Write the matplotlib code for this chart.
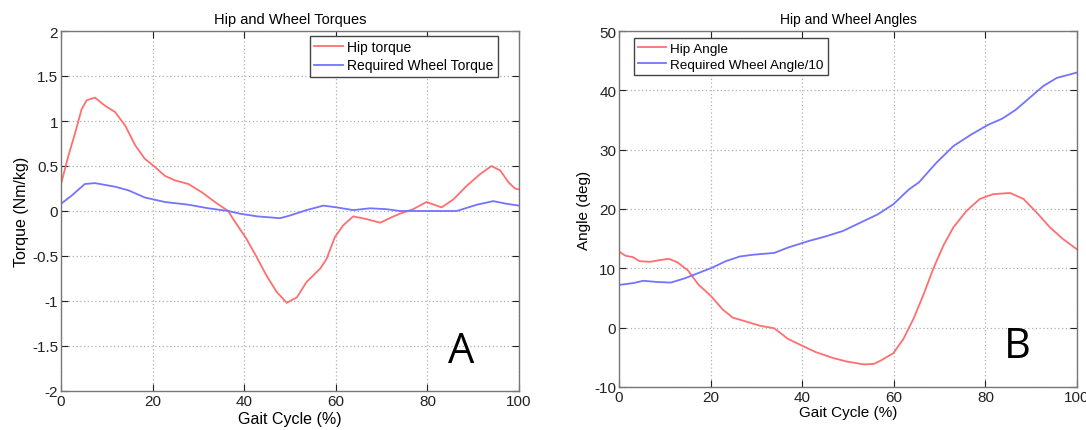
import matplotlib
matplotlib.use("Agg")
import matplotlib.pyplot as plt

plt.rcParams["font.family"] = ["Liberation Sans", "DejaVu Sans"]
plt.rcParams["axes.unicode_minus"] = False

RED = "#ff6f6f"
BLUE = "#7373ff"

# Panel A: torques (Nm/kg) vs gait cycle (%)
hip_torque_x = [0, 1.6, 3.1, 4.5, 5.6, 7.4, 9.6, 11.8, 14.0, 16.2, 18.3, 20.5, 22.7, 24.9,
                27.8, 30.7, 33.6, 36.5, 37.6, 40.5, 42.7, 44.9, 47.1, 49.3, 51.5, 53.6,
                56.6, 58.0, 59.8, 61.6, 63.8, 66.7, 69.7, 72.6, 74.0, 76.9, 79.8, 83.1,
                85.7, 88.6, 91.5, 94.0, 95.9, 97.7, 99.1, 100]
hip_torque_y = [0.30, 0.61, 0.87, 1.13, 1.23, 1.26, 1.17, 1.10, 0.95, 0.73, 0.58, 0.49,
                0.39, 0.34, 0.30, 0.21, 0.10, 0.0, -0.09, -0.31, -0.51, -0.72, -0.90,
                -1.02, -0.96, -0.79, -0.64, -0.53, -0.29, -0.16, -0.06, -0.09, -0.13,
                -0.06, -0.03, 0.02, 0.10, 0.04, 0.13, 0.28, 0.41, 0.50, 0.45, 0.32, 0.25,
                0.24]
wheel_torque_x = [0, 2.3, 5.2, 7.4, 11.8, 14.7, 18.3, 22.7, 27.8, 32.2, 36.5, 39.1, 42.9,
                  47.8, 50.0, 53.6, 57.3, 60.2, 63.8, 67.5, 71.1, 74.0, 76.2, 86.4, 90.8,
                  94.4, 97.3, 100]
wheel_torque_y = [0.08, 0.17, 0.30, 0.31, 0.27, 0.23, 0.15, 0.10, 0.07, 0.03, 0.0, -0.03,
                  -0.06, -0.08, -0.05, 0.01, 0.06, 0.04, 0.01, 0.03, 0.02, 0.0, 0.0, 0.0,
                  0.07, 0.11, 0.08, 0.06]

# Panel B: angles (deg) vs gait cycle (%)
hip_angle_x = [0, 1.5, 3.0, 4.5, 6.8, 9.0, 10.9, 12.8, 15.1, 17.3, 20.0, 22.6, 24.8, 27.9,
               30.9, 33.9, 36.9, 39.9, 42.9, 46.7, 49.7, 53.5, 55.7, 57.0, 59.9, 62.1, 64.3,
               66.4, 68.6, 70.8, 73.0, 75.9, 78.8, 81.7, 85.4, 88.3, 91.2, 94.1, 97.0, 100]
hip_angle_y = [12.8, 12.1, 11.9, 11.2, 11.1, 11.4, 11.6, 11.0, 9.6, 7.3, 5.4, 3.1, 1.7, 1.0,
               0.3, -0.1, -1.9, -3.0, -4.1, -5.1, -5.7, -6.2, -6.1, -5.6, -4.3, -1.9, 1.5,
               5.4, 9.9, 13.8, 16.9, 19.7, 21.7, 22.5, 22.7, 21.7, 19.4, 16.9, 14.9, 13.2]
wheel_angle_x = [0, 3.0, 5.3, 8.3, 11.3, 14.3, 17.3, 20.3, 23.3, 26.4, 29.4, 33.9, 36.9,
                 41.4, 45.2, 48.9, 52.7, 56.5, 59.9, 63.3, 65.5, 69.3, 73.0, 76.8, 80.6,
                 83.6, 86.6, 89.6, 92.6, 95.6, 100]
wheel_angle_y = [7.2, 7.5, 7.9, 7.7, 7.6, 8.3, 9.2, 10.1, 11.2, 12.0, 12.3, 12.6, 13.5,
                 14.6, 15.4, 16.3, 17.7, 19.1, 20.8, 23.3, 24.5, 27.8, 30.6, 32.5, 34.2,
                 35.2, 36.7, 38.7, 40.7, 42.1, 43.0]


def style_axis(ax):
    ax.grid(True, linestyle=(0, (1, 2)), color="#b0b0b0", linewidth=0.9)
    ax.tick_params(direction="in", top=True, right=True, length=5,
                   labelsize=11, colors="#222222", pad=2)
    for spine in ax.spines.values():
        spine.set_color("#777777")
        spine.set_linewidth(1.0)
    ax.set_xlim(0, 100)
    ax.set_xticks([0, 20, 40, 60, 80, 100])


def add_legend(ax, loc, anchor, size):
    leg = ax.legend(loc=loc, bbox_to_anchor=anchor, fontsize=size, fancybox=False,
                    framealpha=1, edgecolor="#444444", borderpad=0.3,
                    handlelength=2.1, handletextpad=0.3, labelspacing=0.3,
                    borderaxespad=0)
    leg.get_frame().set_linewidth(1.0)


fig = plt.figure(figsize=(10.86, 4.31), dpi=100)

ax1 = fig.add_axes([61 / 1086, 39 / 431, 458 / 1086, 360 / 431])
ax1.plot(hip_torque_x, hip_torque_y, color=RED, linewidth=1.3, label="Hip torque")
ax1.plot(wheel_torque_x, wheel_torque_y, color=BLUE, linewidth=1.3,
         label="Required Wheel Torque")
style_axis(ax1)
ax1.set_ylim(-2, 2)
ax1.set_yticks([-2, -1.5, -1, -0.5, 0, 0.5, 1, 1.5, 2])
ax1.set_yticklabels(["-2", "-1.5", "-1", "-0.5", "0", "0.5", "1", "1.5", "2"])
ax1.set_title("Hip and Wheel Torques", fontsize=10.5, pad=6)
ax1.set_xlabel("Gait Cycle (%)", fontsize=11.5, labelpad=2)
ax1.set_ylabel("Torque (Nm/kg)", fontsize=11.5, labelpad=2)
add_legend(ax1, "upper right", (0.954, 0.986), 10)
ax1.text(0.873, 0.111, "A", transform=ax1.transAxes, fontsize=30,
         family=["Open Sans", "DejaVu Sans"], ha="center", va="center")

ax2 = fig.add_axes([619 / 1086, 43 / 431, 458 / 1086, 356 / 431])
ax2.plot(hip_angle_x, hip_angle_y, color=RED, linewidth=1.3, label="Hip Angle")
ax2.plot(wheel_angle_x, wheel_angle_y, color=BLUE, linewidth=1.3,
         label="Required Wheel Angle/10")
style_axis(ax2)
ax2.set_ylim(-10, 50)
ax2.set_yticks([-10, 0, 10, 20, 30, 40, 50])
ax2.set_title("Hip and Wheel Angles", fontsize=10, pad=6)
ax2.set_xlabel("Gait Cycle (%)", fontsize=11, labelpad=1)
ax2.set_ylabel("Angle (deg)", fontsize=11, labelpad=2)
add_legend(ax2, "upper left", (0.033, 0.98), 9.7)
ax2.text(0.87, 0.115, "B", transform=ax2.transAxes, fontsize=30,
         family=["Open Sans", "DejaVu Sans"], ha="center", va="center")

fig.savefig("out.png", dpi=100)
